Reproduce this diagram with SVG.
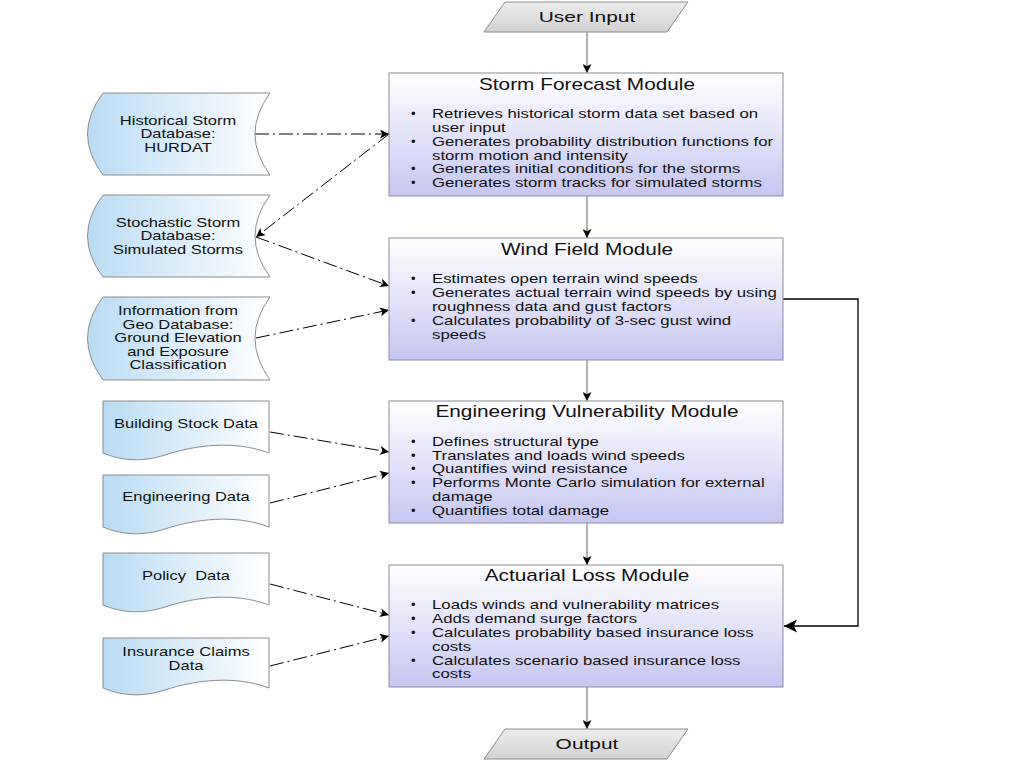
<svg xmlns="http://www.w3.org/2000/svg" width="1024" height="768" viewBox="0 0 1024 768">
<defs>
<linearGradient id="gMod" x1="0" y1="0" x2="0" y2="1">
<stop offset="0" stop-color="#ffffff"/>
<stop offset="1" stop-color="#c6c6f2"/>
</linearGradient>
<linearGradient id="gData" x1="0" y1="0" x2="1" y2="0">
<stop offset="0" stop-color="#b9dcf4"/>
<stop offset="1" stop-color="#ffffff"/>
</linearGradient>
<linearGradient id="gIO" x1="0" y1="0" x2="0" y2="1">
<stop offset="0" stop-color="#ececec"/>
<stop offset="1" stop-color="#d2d2d2"/>
</linearGradient>
<marker id="ah" viewBox="0 0 10 10" refX="10" refY="5" markerWidth="9" markerHeight="9" markerUnits="userSpaceOnUse" orient="auto">
<path d="M0,0 L10,5 L0,10 L2.5,5 Z" fill="#000"/>
</marker>
<marker id="ahBig" viewBox="0 0 10 10" refX="10" refY="5" markerWidth="13" markerHeight="13" markerUnits="userSpaceOnUse" orient="auto">
<path d="M0,0 L10,5 L0,10 L2.5,5 Z" fill="#000"/>
</marker>
</defs>
<style>
.mod{fill:url(#gMod);stroke:#8c8c9c;stroke-width:1}
.data{fill:url(#gData);stroke:#8c8c8c;stroke-width:1}
.io{fill:url(#gIO);stroke:#8c8c8c;stroke-width:1}
text{font-family:"Liberation Sans",Arial,sans-serif;fill:#111}
.title{font-size:16px;text-anchor:middle}
.b{font-size:13px}
.dot{font-size:13px}
.lbl{font-size:12.5px;text-anchor:middle}
.io-t{font-size:15.5px;text-anchor:middle}
.dd{fill:none;stroke:#000;stroke-width:1;stroke-dasharray:14 4 2 4;marker-end:url(#ah)}
.v{fill:none;stroke:#666;stroke-width:1;marker-end:url(#ah)}
.fb{fill:none;stroke:#000;stroke-width:1.3;marker-end:url(#ahBig)}
</style>

<g id="connectors">
<line class="v" x1="587" y1="32" x2="587" y2="73"/>
<line class="v" x1="587" y1="196" x2="587" y2="238"/>
<line class="v" x1="587" y1="360" x2="587" y2="401"/>
<line class="v" x1="587" y1="523" x2="587" y2="565"/>
<line class="v" x1="587" y1="687" x2="587" y2="729"/>
<polyline class="fb" points="783,299 858,299 858,626 784,626"/>
<line class="dd" x1="255" y1="134" x2="389" y2="134"/>
<line class="dd" x1="389" y1="134" x2="256" y2="237"/>
<line class="dd" x1="256" y1="237" x2="389" y2="286"/>
<line class="dd" x1="256" y1="338" x2="389" y2="310"/>
<line class="dd" x1="270" y1="432" x2="389" y2="452"/>
<line class="dd" x1="270" y1="503" x2="389" y2="473"/>
<line class="dd" x1="270" y1="584" x2="389" y2="615"/>
<line class="dd" x1="270" y1="666" x2="389" y2="636"/>
</g>

<g id="user-input">
<polygon class="io" points="505,2 688,2 667,32 484,32"/>
<g transform="translate(587 0) scale(1.35 1)"><text class="io-t" x="0" y="22">User Input</text></g>
</g>

<g id="output">
<polygon class="io" points="505,729 688,729 667,759 484,759"/>
<g transform="translate(587 0) scale(1.35 1)"><text class="io-t" x="0" y="749">Output</text></g>
</g>

<g id="storm-forecast">
<rect class="mod" x="389" y="73" width="394" height="123"/>
<g transform="translate(587 0) scale(1.3 1)"><text class="title" x="0" y="90">Storm Forecast Module</text></g>
<text class="dot" x="411" y="118">•</text>
<text class="dot" x="411" y="146">•</text>
<text class="dot" x="411" y="173">•</text>
<text class="dot" x="411" y="187">•</text>
<g transform="translate(432 0) scale(1.29 1)">
<text class="b" x="0" y="118">Retrieves historical storm data set based on</text>
<text class="b" x="0" y="132">user input</text>
<text class="b" x="0" y="146">Generates probability distribution functions for</text>
<text class="b" x="0" y="160">storm motion and intensity</text>
<text class="b" x="0" y="173">Generates initial conditions for the storms</text>
<text class="b" x="0" y="187">Generates storm tracks for simulated storms</text>
</g>
</g>

<g id="wind-field">
<rect class="mod" x="389" y="238" width="394" height="122"/>
<g transform="translate(587 0) scale(1.3 1)"><text class="title" x="0" y="255">Wind Field Module</text></g>
<text class="dot" x="411" y="283">•</text>
<text class="dot" x="411" y="297">•</text>
<text class="dot" x="411" y="325">•</text>
<g transform="translate(432 0) scale(1.29 1)">
<text class="b" x="0" y="283">Estimates open terrain wind speeds</text>
<text class="b" x="0" y="297">Generates actual terrain wind speeds by using</text>
<text class="b" x="0" y="311">roughness data and gust factors</text>
<text class="b" x="0" y="325">Calculates probability of 3-sec gust wind</text>
<text class="b" x="0" y="339">speeds</text>
</g>
</g>

<g id="engineering-vulnerability">
<rect class="mod" x="389" y="401" width="394" height="122"/>
<g transform="translate(587 0) scale(1.3 1)"><text class="title" x="0" y="417">Engineering Vulnerability Module</text></g>
<text class="dot" x="411" y="446">•</text>
<text class="dot" x="411" y="460">•</text>
<text class="dot" x="411" y="473">•</text>
<text class="dot" x="411" y="487">•</text>
<text class="dot" x="411" y="515">•</text>
<g transform="translate(432 0) scale(1.29 1)">
<text class="b" x="0" y="446">Defines structural type</text>
<text class="b" x="0" y="460">Translates and loads wind speeds</text>
<text class="b" x="0" y="473">Quantifies wind resistance</text>
<text class="b" x="0" y="487">Performs Monte Carlo simulation for external</text>
<text class="b" x="0" y="501">damage</text>
<text class="b" x="0" y="515">Quantifies total damage</text>
</g>
</g>

<g id="actuarial-loss">
<rect class="mod" x="389" y="565" width="394" height="122"/>
<g transform="translate(587 0) scale(1.3 1)"><text class="title" x="0" y="581">Actuarial Loss Module</text></g>
<text class="dot" x="411" y="609">•</text>
<text class="dot" x="411" y="623">•</text>
<text class="dot" x="411" y="637">•</text>
<text class="dot" x="411" y="665">•</text>
<g transform="translate(432 0) scale(1.29 1)">
<text class="b" x="0" y="609">Loads winds and vulnerability matrices</text>
<text class="b" x="0" y="623">Adds demand surge factors</text>
<text class="b" x="0" y="637">Calculates probability based insurance loss</text>
<text class="b" x="0" y="651">costs</text>
<text class="b" x="0" y="665">Calculates scenario based insurance loss</text>
<text class="b" x="0" y="678">costs</text>
</g>
</g>

<g id="historical-storm-db">
<path class="data" d="M103,93 L270,93 Q240,134 270,175 L103,175 Q72,134 103,93 Z"/>
<g transform="translate(178 0) scale(1.32 1)">
<text class="lbl" x="0" y="125">Historical Storm</text>
<text class="lbl" x="0" y="138">Database:</text>
<text class="lbl" x="0" y="152">HURDAT</text>
</g>
</g>

<g id="stochastic-storm-db">
<path class="data" d="M103,195 L270,195 Q240,236 270,277 L103,277 Q72,236 103,195 Z"/>
<g transform="translate(178 0) scale(1.32 1)">
<text class="lbl" x="0" y="227">Stochastic Storm</text>
<text class="lbl" x="0" y="240">Database:</text>
<text class="lbl" x="0" y="254">Simulated Storms</text>
</g>
</g>

<g id="geo-db">
<path class="data" d="M103,297 L270,297 Q240,338 270,380 L103,380 Q72,338 103,297 Z"/>
<g transform="translate(178 0) scale(1.32 1)">
<text class="lbl" x="0" y="315">Information from</text>
<text class="lbl" x="0" y="329">Geo Database:</text>
<text class="lbl" x="0" y="342">Ground Elevation</text>
<text class="lbl" x="0" y="356">and Exposure</text>
<text class="lbl" x="0" y="369">Classification</text>
</g>
</g>

<g id="building-stock">
<path class="data" d="M103,401 L269,401 L269,453 C235,440 195,445 165,455 C140,463 120,460 103,453 Z"/>
<g transform="translate(186 0) scale(1.32 1)"><text class="lbl" x="0" y="428">Building Stock Data</text></g>
</g>

<g id="engineering-data">
<path class="data" d="M103,475 L269,475 L269,527 C235,514 195,519 165,529 C140,537 120,534 103,527 Z"/>
<g transform="translate(186 0) scale(1.32 1)"><text class="lbl" x="0" y="501">Engineering Data</text></g>
</g>

<g id="policy-data">
<path class="data" d="M103,553 L269,553 L269,605 C235,592 195,597 165,607 C140,615 120,612 103,605 Z"/>
<g transform="translate(186 0) scale(1.32 1)"><text class="lbl" x="0" y="580" xml:space="preserve">Policy  Data</text></g>
</g>

<g id="insurance-claims">
<path class="data" d="M103,638 L269,638 L269,688 C235,675 195,680 165,690 C140,698 120,695 103,688 Z"/>
<g transform="translate(186 0) scale(1.32 1)">
<text class="lbl" x="0" y="656">Insurance Claims</text>
<text class="lbl" x="0" y="670">Data</text>
</g>
</g>
</svg>
